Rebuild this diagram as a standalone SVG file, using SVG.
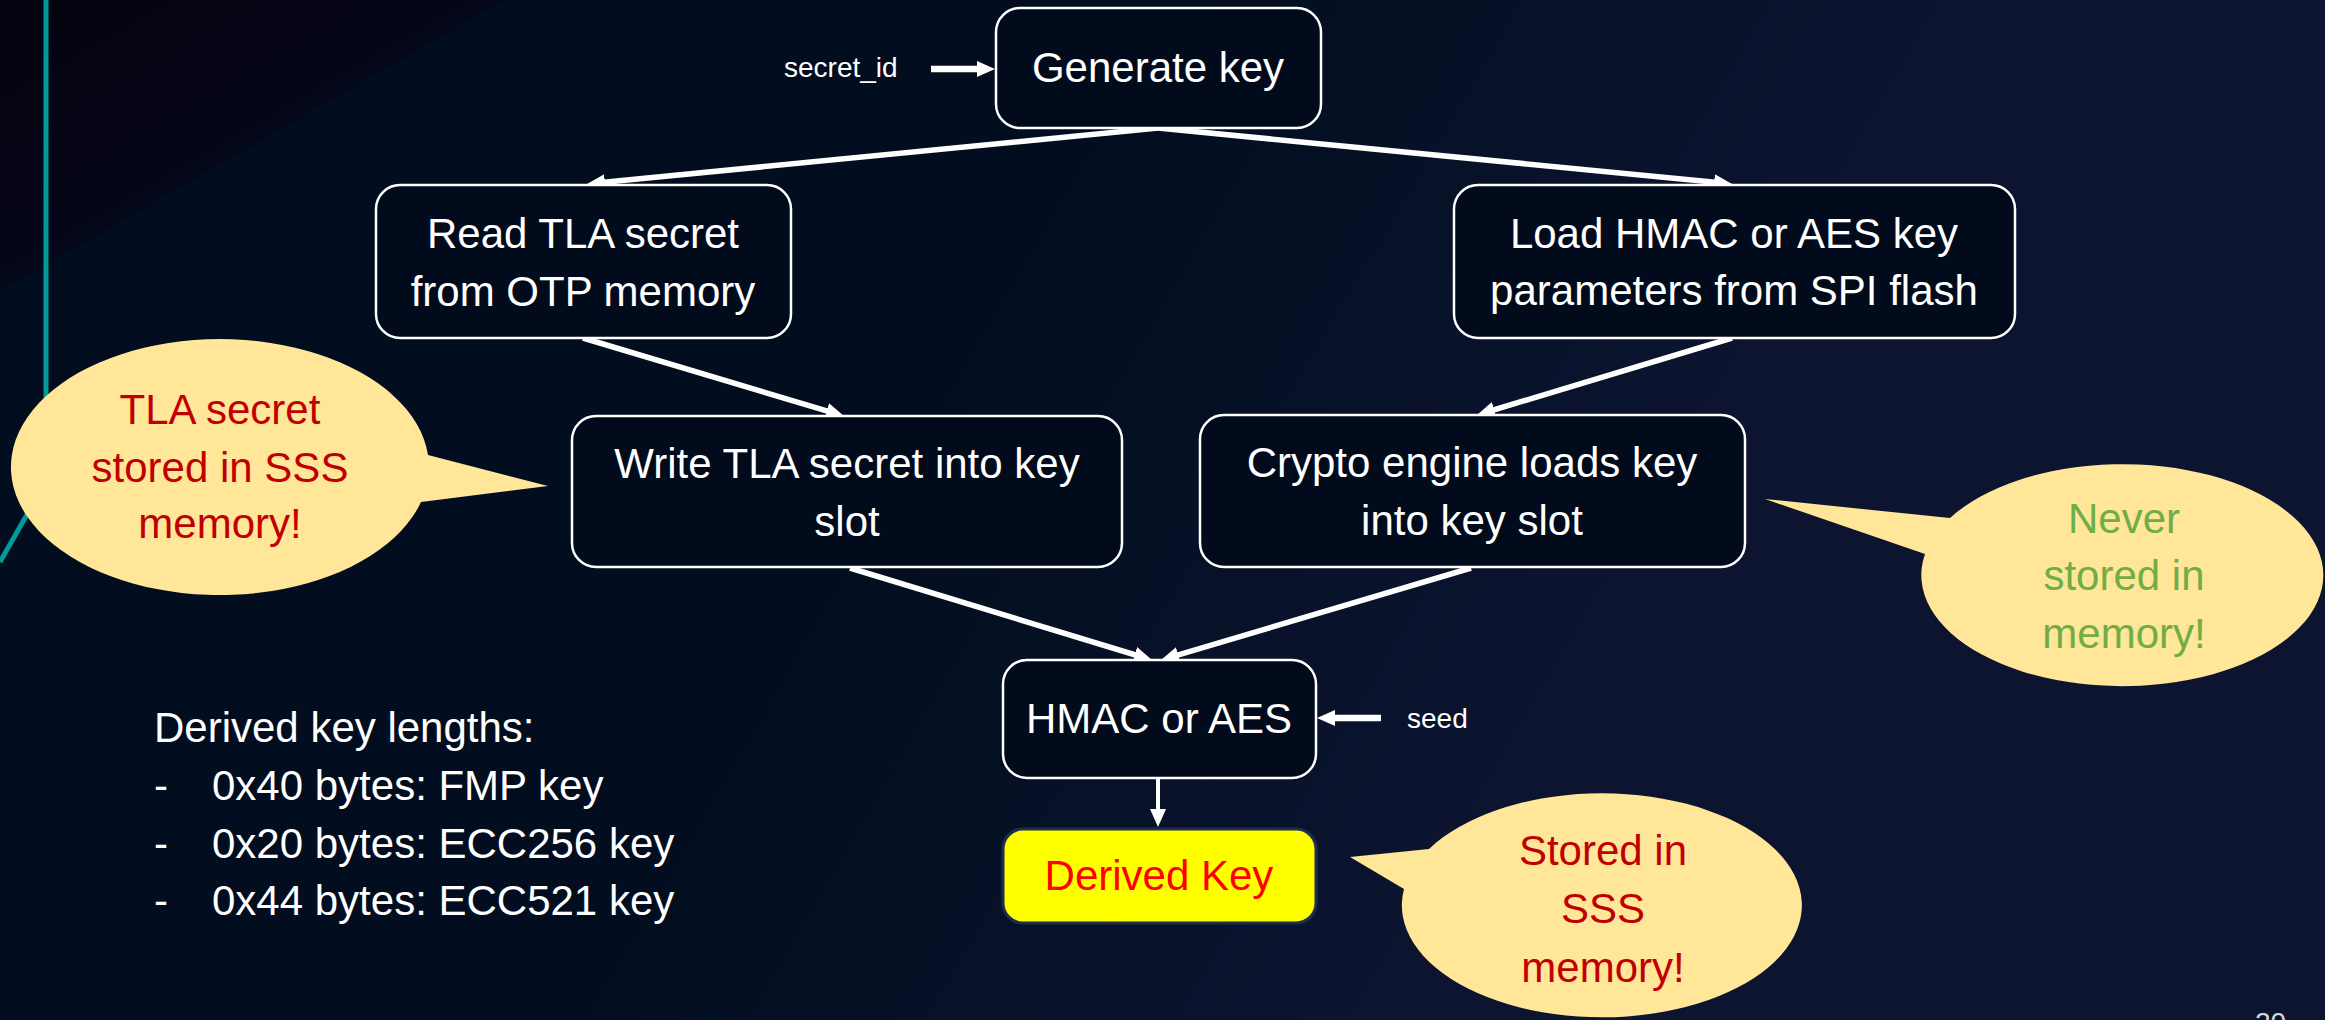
<svg xmlns="http://www.w3.org/2000/svg" width="2325" height="1020" viewBox="0 0 2325 1020">
  <defs>
    <linearGradient id="bg" gradientUnits="userSpaceOnUse" x1="900" y1="450" x2="1500" y2="800">
      <stop offset="0" stop-color="#020e1f"/>
      <stop offset="1" stop-color="#0c1430"/>
    </linearGradient>
    <!-- dark corner wash, fading toward its diagonal edge -->
    <linearGradient id="corner" gradientUnits="userSpaceOnUse" x1="0" y1="0" x2="130" y2="226">
      <stop offset="0" stop-color="#04030f"/>
      <stop offset="0.8" stop-color="#040517"/>
      <stop offset="1" stop-color="#03091b"/>
    </linearGradient>
    <marker id="ah" viewBox="0 0 18 16" refX="6" refY="8" markerWidth="18" markerHeight="16" markerUnits="userSpaceOnUse" orient="auto">
      <path d="M0,0 L18,8 L0,16 Z" fill="#ffffff"/>
    </marker>
    <style>
      .box { fill: #010b1b; stroke: #ffffff; stroke-width: 2.5; }
      .key { fill: #ffff00; stroke: #1f2d4f; stroke-width: 3; }
      .t { font-family: "Liberation Sans", Arial, sans-serif; font-size: 42px; fill: #ffffff; text-anchor: middle; }
      .small { font-family: "Liberation Sans", Arial, sans-serif; font-size: 28px; fill: #ffffff; }
      .list { font-family: "Liberation Sans", Arial, sans-serif; font-size: 42px; fill: #ffffff; }
      .link { fill: none; stroke: #ffffff; stroke-width: 5.5; marker-end: url(#ah); }
      .link.thick { stroke-width: 6.5; }
      .link.thin { stroke-width: 4; }
      .bubble { fill: #ffe699; }
      .red { fill: #c00000; }
      .green { fill: #70ad47; }
    </style>
  </defs>

  <!-- background -->
  <rect x="0" y="0" width="2325" height="1020" fill="url(#bg)"/>
  <polygon points="0,0 505,0 0,292" fill="url(#corner)"/>
  <polyline points="46,0 46,481 0,562" fill="none" stroke="#009a9a" stroke-width="5"/>

  <!-- connectors -->
  <g id="connectors">
    <line class="link thick" x1="931" y1="69" x2="983" y2="69"/>
    <line class="link" x1="1158" y1="128" x2="599" y2="182.8"/>
    <line class="link" x1="1158" y1="128" x2="1720.1" y2="182.8"/>
    <line class="link" x1="583" y1="338" x2="832.5" y2="412.6"/>
    <line class="link" x1="1732" y1="338" x2="1488.5" y2="411.5"/>
    <line class="link" x1="850" y1="568" x2="1140.5" y2="656.5"/>
    <line class="link" x1="1471" y1="568" x2="1172.5" y2="656.6"/>
    <line class="link thick" x1="1381" y1="718" x2="1329" y2="718"/>
    <line class="link thin" x1="1158" y1="779" x2="1158" y2="815"/>
  </g>

  <!-- input labels -->
  <text class="small" x="784" y="77">secret_id</text>
  <text class="small" x="1407" y="728">seed</text>

  <!-- nodes -->
  <g id="generate-key">
    <rect class="box" x="996" y="8" width="325" height="120" rx="24"/>
    <text class="t" x="1158" y="82">Generate key</text>
  </g>
  <g id="read-tla">
    <rect class="box" x="376" y="185" width="415" height="153" rx="24"/>
    <text class="t" x="583" y="248">Read TLA secret</text>
    <text class="t" x="583" y="306">from OTP memory</text>
  </g>
  <g id="load-params">
    <rect class="box" x="1454" y="185" width="561" height="153" rx="24"/>
    <text class="t" x="1734" y="248">Load HMAC or AES key</text>
    <text class="t" x="1734" y="305">parameters from SPI flash</text>
  </g>
  <g id="write-tla">
    <rect class="box" x="572" y="416" width="550" height="151" rx="24"/>
    <text class="t" x="847" y="478">Write TLA secret into key</text>
    <text class="t" x="847" y="536">slot</text>
  </g>
  <g id="crypto-engine">
    <rect class="box" x="1200" y="415" width="545" height="152" rx="24"/>
    <text class="t" x="1472" y="477">Crypto engine loads key</text>
    <text class="t" x="1472" y="535">into key slot</text>
  </g>
  <g id="hmac-aes">
    <rect class="box" x="1003" y="660" width="313" height="118" rx="24"/>
    <text class="t" x="1159" y="733">HMAC or AES</text>
  </g>
  <g id="derived-key">
    <rect class="key" x="1003" y="829" width="313" height="94" rx="20"/>
    <text class="t" x="1159" y="890" style="fill:#ff0000">Derived Key</text>
  </g>

  <!-- callouts -->
  <g id="callout-tla">
    <path class="bubble" d="M428,455 L548,486 L421,502 A209,128 0 1 1 428,455 Z"/>
    <text class="t red" x="220" y="424">TLA secret</text>
    <text class="t red" x="220" y="482">stored in SSS</text>
    <text class="t red" x="220" y="538">memory!</text>
  </g>
  <g id="callout-never">
    <path class="bubble" d="M1950,518 L1765,499 L1925,554 A201,111 0 1 0 1950,518 Z"/>
    <text class="t green" x="2124" y="533">Never</text>
    <text class="t green" x="2124" y="590">stored in</text>
    <text class="t green" x="2124" y="648">memory!</text>
  </g>
  <g id="callout-stored">
    <path class="bubble" d="M1429,849 L1350,857 L1404,889 A200,112 0 1 0 1429,849 Z"/>
    <text class="t red" x="1603" y="865">Stored in</text>
    <text class="t red" x="1603" y="923">SSS</text>
    <text class="t red" x="1603" y="982">memory!</text>
  </g>

  <!-- key length notes -->
  <g id="key-lengths" class="list">
    <text x="154" y="742">Derived key lengths:</text>
    <text x="154" y="800">-</text>
    <text x="212" y="800">0x40 bytes: FMP key</text>
    <text x="154" y="858">-</text>
    <text x="212" y="858">0x20 bytes: ECC256 key</text>
    <text x="154" y="915">-</text>
    <text x="212" y="915">0x44 bytes: ECC521 key</text>
  </g>

  <!-- page number, running off the bottom edge -->
  <text class="small" x="2255" y="1032" style="fill:#d9d9d9">20</text>
</svg>
